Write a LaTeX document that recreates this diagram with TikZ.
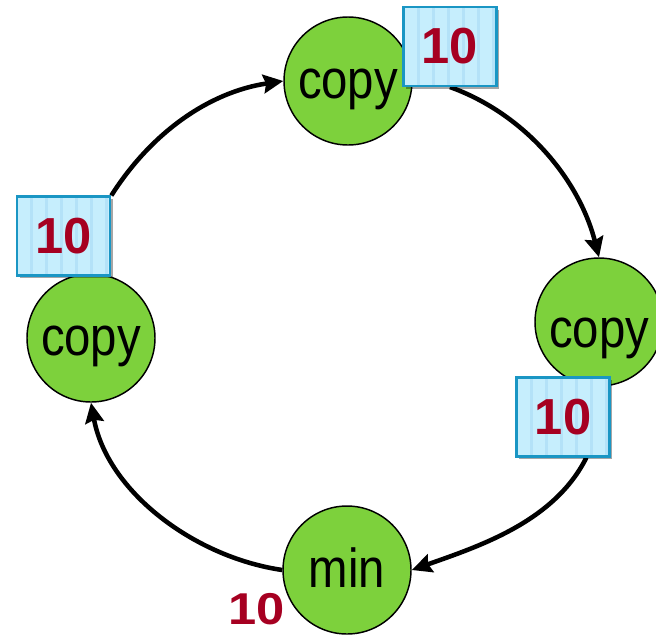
\documentclass[tikz,border=0pt]{standalone}
\usepackage{fontspec}
\setmainfont{Liberation Sans}
\usetikzlibrary{arrows.meta,shadows,backgrounds}
\definecolor{nodegreen}{RGB}{125,209,60}
\definecolor{boxfill}{RGB}{198,238,253}
\definecolor{boxstripe}{RGB}{180,226,248}
\definecolor{boxedge}{RGB}{26,150,196}
\definecolor{valred}{RGB}{166,0,33}

% operator names are set a little taller than the font's own shapes
\newcommand{\opname}[1]{\scalebox{1}[1.16]{#1}}

\begin{document}
\begin{tikzpicture}[x=0.75pt,y=-0.75pt,
  opnode/.style={circle,draw=black,line width=1.1pt,fill=nodegreen,
    minimum size=96pt,inner sep=0pt,font=\fontsize{35.5}{40}\selectfont,
    text height=25.5pt,text depth=0pt},
  valbox/.style={rectangle,draw=boxedge,line width=1.8pt,fill=boxfill,
    minimum width=70pt,minimum height=59pt,inner sep=0pt,
    font=\fontsize{38}{40}\selectfont\bfseries,text=valred,
    drop shadow={shadow xshift=2pt,shadow yshift=-2pt,opacity=0.35,fill=black},
    path picture={
      \foreach \i in {1,...,6}
        \fill[boxstripe] ([xshift=\i*11.25pt-1.1pt]path picture bounding box.south west)
          rectangle ++(2.2pt,60pt);
    }},
  vallabel/.style={font=\fontsize{38}{40}\selectfont\bfseries,text=valred,inner sep=0pt},
  flow/.style={line width=3.4pt,-{Stealth[length=15pt,width=14pt,inset=2pt]}}
]
\useasboundingbox (0,0) rectangle (656,636);

% operator nodes
\node[opnode] (copyT) at (348,81) {\opname{copy}};
\node[opnode,text height=37.5pt] (copyR) at (599,322) {\opname{copy}};
\node[opnode] (copyL) at (91,338) {\opname{copy}};
\node[opnode] (min) at (347,570) {\opname{min}};

% values in transit
\node[valbox] (boxT) at (450,46.5) {10};
\node[valbox] (boxL) at (63.5,236) {10};
\node[valbox] (boxR) at (563,417) {10};
\node[vallabel] (valMin) at (257,609) {\scalebox{1}[0.88]{10}};

% ring of channels
\begin{scope}[on background layer]
\draw[flow] (boxL.north east) .. controls +(40,-63) and +(-74,11) .. (copyT.west);
\draw[flow] (boxT.south) .. controls +(75,27) and +(-20,-78) .. (copyR.north);
\draw[flow] (boxR.-60) .. controls +(-32,64) and +(68,-24) .. (min.east);
\draw[flow] (min.west) .. controls +(-89,-13) and +(16,88) .. (copyL.south);
\end{scope}
\end{tikzpicture}
\end{document}
